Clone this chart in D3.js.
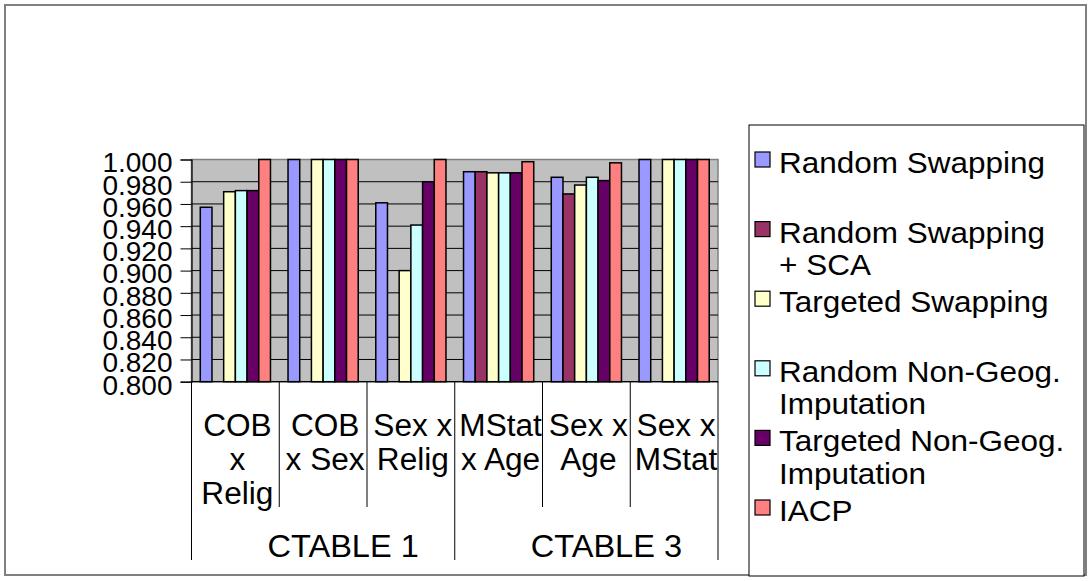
<!DOCTYPE html>
<html>
<head>
<meta charset="utf-8">
<script src="https://cdn.jsdelivr.net/npm/d3@7"></script>
<style>
  html, body { margin: 0; padding: 0; background: #fff; }
  text { font-family: "Liberation Sans", Arial, sans-serif; fill: #000; }
</style>
</head>
<body>
<svg id="chart" width="1092" height="581"></svg>
<script>
// ---- data ----
const categories = ["COB x Relig", "COB x Sex", "Sex x Relig", "MStat x Age", "Sex x Age", "Sex x MStat"];
const categoryLines = [["COB", "x", "Relig"], ["COB", "x Sex"], ["Sex x", "Relig"], ["MStat", "x Age"], ["Sex x", "Age"], ["Sex x", "MStat"]];
const groups = ["CTABLE 1", "CTABLE 3"];
const groupOf = ["CTABLE 1", "CTABLE 1", "CTABLE 1", "CTABLE 3", "CTABLE 3", "CTABLE 3"];
const seriesNames = ["Random Swapping", "Random Swapping + SCA", "Targeted Swapping", "Random Non-Geog. Imputation", "Targeted Non-Geog. Imputation", "IACP"];
const legendLines = [["Random Swapping"], ["Random Swapping", "+ SCA"], ["Targeted Swapping"], ["Random Non-Geog.", "Imputation"], ["Targeted Non-Geog.", "Imputation"], ["IACP"]];
const randomSwapping = [0.957, 1.000, 0.961, 0.989, 0.984, 1.000];
const randomSwappingSCA = [null, null, null, 0.989, 0.969, null];
const targetedSwapping = [0.971, 1.000, 0.900, 0.988, 0.977, 1.000];
const randomNonGeog = [0.972, 1.000, 0.941, 0.988, 0.984, 1.000];
const targetedNonGeog = [0.972, 1.000, 0.980, 0.988, 0.981, 1.000];
const iacp = [1.000, 1.000, 1.000, 0.998, 0.997, 1.000];
const seriesValues = [randomSwapping, randomSwappingSCA, targetedSwapping, randomNonGeog, targetedNonGeog, iacp];
const colors = ["#9999FF", "#993366", "#FFFFCC", "#CCFFFF", "#660066", "#FF8080"];
const yTicks = [0.800, 0.820, 0.840, 0.860, 0.880, 0.900, 0.920, 0.940, 0.960, 0.980, 1.000];

// ---- layout ----
const svg = d3.select("#chart");
const plot = { left: 191.5, right: 718, top: 159.5, bottom: 381.7 };

// outer frame
svg.append("rect").attr("x", 5).attr("y", 5).attr("width", 1081).attr("height", 570)
  .attr("fill", "#fff").attr("stroke", "#808080").attr("stroke-width", 2);

const x0 = d3.scaleBand().domain(categories).range([plot.left, plot.right]).paddingInner(0).paddingOuter(0);
const barW = x0.bandwidth() / 7.5;
const x1 = d3.scaleBand().domain(seriesNames).range([barW * 0.75, barW * 6.75]).padding(0);

const y = d3.scaleLinear().domain([0.8, 1.0]).range([plot.bottom, plot.top]);

// plot background
svg.append("rect").attr("x", plot.left).attr("y", plot.top)
  .attr("width", plot.right - plot.left).attr("height", plot.bottom - plot.top)
  .attr("fill", "#C0C0C0").attr("stroke", "#808080").attr("stroke-width", 1.5);

// gridlines
svg.append("g").selectAll("line").data(yTicks.filter(t => t > 0.8 && t < 1.0)).join("line")
  .attr("x1", plot.left).attr("x2", plot.right)
  .attr("y1", d => y(d)).attr("y2", d => y(d))
  .attr("stroke", "#000").attr("stroke-width", 1);

// bars
const barData = [];
categories.forEach((c, ci) => {
  seriesNames.forEach((s, si) => {
    const v = seriesValues[si][ci];
    if (v !== null) barData.push({ c, s, v, color: colors[si] });
  });
});
svg.append("g").selectAll("rect").data(barData).join("rect")
  .attr("x", d => x0(d.c) + x1(d.s))
  .attr("width", x1.bandwidth())
  .attr("y", d => y(d.v))
  .attr("height", d => y(0.8) - y(d.v))
  .attr("fill", d => d.color)
  .attr("stroke", "#000").attr("stroke-width", 1.5);

// y axis
const yAxis = d3.axisLeft(y).tickValues(yTicks).tickFormat(d3.format(".3f")).tickSize(11).tickPadding(8);
const ya = svg.append("g").attr("transform", `translate(${plot.left},0)`).call(yAxis);
ya.select(".domain").attr("stroke", "#000").attr("stroke-width", 1.2);
ya.selectAll(".tick line").attr("stroke", "#000");
ya.selectAll(".tick text").attr("font-size", 28).attr("font-family", '"Liberation Sans", Arial, sans-serif')
  .attr("fill", "#000").attr("dy", "0.44em");

// x axis line
svg.append("line").attr("x1", plot.left).attr("x2", plot.right)
  .attr("y1", plot.bottom).attr("y2", plot.bottom).attr("stroke", "#000").attr("stroke-width", 1.2);

// category dividers
categories.forEach((c, i) => {
  const xx = x0(c);
  const isGroupEdge = i === 0 || groupOf[i] !== groupOf[i - 1];
  svg.append("line").attr("x1", xx).attr("x2", xx)
    .attr("y1", plot.bottom).attr("y2", isGroupEdge ? 560 : 507)
    .attr("stroke", "#000").attr("stroke-width", 1);
});
svg.append("line").attr("x1", plot.right).attr("x2", plot.right)
  .attr("y1", plot.bottom).attr("y2", 560).attr("stroke", "#000").attr("stroke-width", 1);

// category labels
categories.forEach((c, i) => {
  const cx = x0(c) + x0.bandwidth() / 2 + 2;
  const g = svg.append("g").attr("transform", `translate(${cx},0) scale(1.02,1)`);
  const t = g.append("text").attr("text-anchor", "middle").attr("font-size", 31);
  categoryLines[i].forEach((ln, li) => {
    t.append("tspan").attr("x", 0).attr("y", 436 + li * 34).text(ln);
  });
});

// group labels
groups.forEach(g => {
  const cats = categories.filter((c, i) => groupOf[i] === g);
  const gx0 = x0(cats[0]);
  const gx1 = x0(cats[cats.length - 1]) + x0.bandwidth();
  svg.append("g").attr("transform", `translate(${(gx0 + gx1) / 2 + 20},0) scale(1.05,1)`)
    .append("text").attr("text-anchor", "middle").attr("font-size", 31)
    .attr("x", 0).attr("y", 557).text(g);
});

// legend
svg.append("rect").attr("x", 749).attr("y", 125).attr("width", 335).attr("height", 451)
  .attr("fill", "#fff").attr("stroke", "#000").attr("stroke-width", 1);
seriesNames.forEach((s, i) => {
  const base = 173 + i * 69.6;
  svg.append("rect").attr("x", 755).attr("y", base - 21).attr("width", 15).attr("height", 15)
    .attr("fill", colors[i]).attr("stroke", "#000").attr("stroke-width", 1.2);
  const g = svg.append("g").attr("transform", "translate(779,0) scale(1.05,1)");
  const t = g.append("text").attr("font-size", 30);
  legendLines[i].forEach((ln, li) => {
    t.append("tspan").attr("x", 0).attr("y", base + li * 32.5).text(ln);
  });
});
</script>
</body>
</html>
